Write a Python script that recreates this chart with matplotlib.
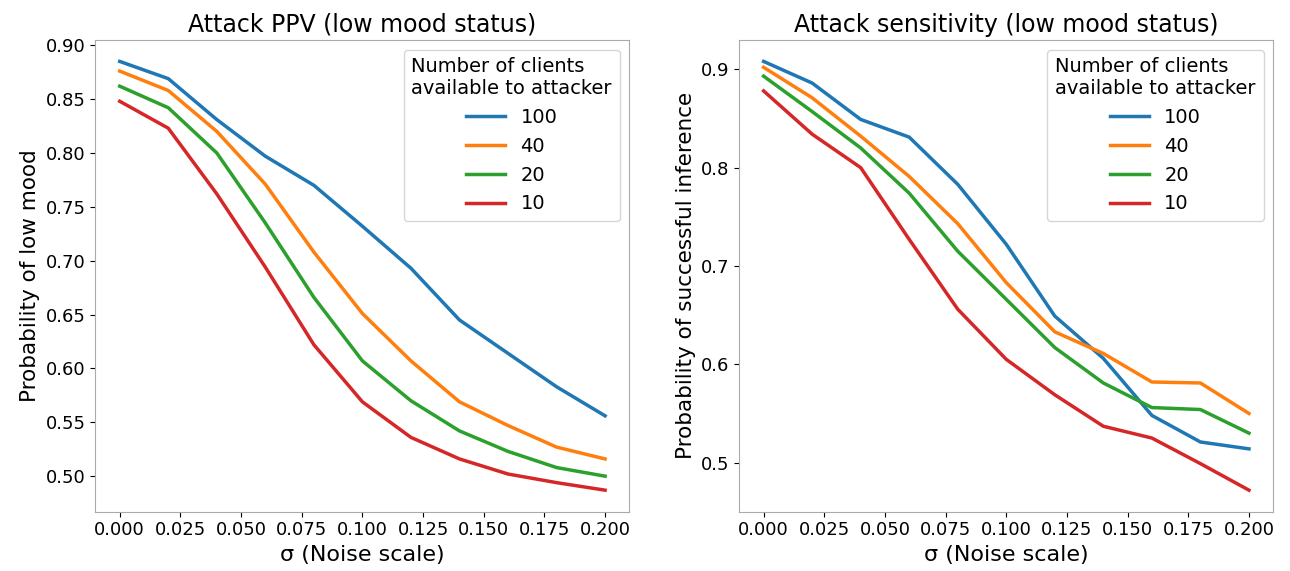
import numpy as np
import matplotlib
matplotlib.use("Agg")
import matplotlib.pyplot as plt

sigma = [0.00, 0.02, 0.04, 0.06, 0.08, 0.10, 0.12, 0.14, 0.16, 0.18, 0.20]
clients = ["100", "40", "20", "10"]

# Attack PPV (low mood status)
ppv_100 = [0.885, 0.869, 0.831, 0.797, 0.770, 0.732, 0.693, 0.645, 0.614, 0.583, 0.556]
ppv_40 = [0.876, 0.858, 0.820, 0.771, 0.708, 0.651, 0.607, 0.569, 0.547, 0.527, 0.516]
ppv_20 = [0.862, 0.842, 0.800, 0.735, 0.666, 0.607, 0.570, 0.542, 0.523, 0.508, 0.500]
ppv_10 = [0.848, 0.823, 0.762, 0.694, 0.622, 0.569, 0.536, 0.516, 0.502, 0.494, 0.487]

# Attack sensitivity (low mood status)
sens_100 = [0.908, 0.886, 0.849, 0.831, 0.783, 0.722, 0.649, 0.606, 0.548, 0.521, 0.514]
sens_40 = [0.902, 0.871, 0.832, 0.791, 0.743, 0.683, 0.633, 0.611, 0.582, 0.581, 0.550]
sens_20 = [0.893, 0.857, 0.820, 0.774, 0.715, 0.666, 0.617, 0.581, 0.556, 0.554, 0.530]
sens_10 = [0.878, 0.834, 0.800, 0.727, 0.656, 0.605, 0.569, 0.537, 0.525, 0.499, 0.472]

colors = ["tab:blue", "tab:orange", "tab:green", "tab:red"]

fig, axes = plt.subplots(1, 2, figsize=(12.9, 5.71), dpi=100)
fig.subplots_adjust(left=0.074, right=0.987, top=0.930, bottom=0.104, wspace=0.206)

panels = [
    (axes[0], [ppv_100, ppv_40, ppv_20, ppv_10],
     "Attack PPV (low mood status)", "Probability of low mood"),
    (axes[1], [sens_100, sens_40, sens_20, sens_10],
     "Attack sensitivity (low mood status)", "Probability of successful inference"),
]

for ax, series, title, ylabel in panels:
    for vals, lab, c in zip(series, clients, colors):
        ax.plot(sigma, vals, color=c, linewidth=2.5, label=lab)
    ax.set_title(title, fontsize=17)
    ax.set_xlabel("σ (Noise scale)", fontsize=16)
    ax.set_ylabel(ylabel, fontsize=15.5)
    ax.set_xticks(np.arange(0, 0.201, 0.025))
    ax.tick_params(labelsize=13)
    ax.legend(title="Number of clients\navailable to attacker", fontsize=14,
              title_fontsize=14, loc="upper right")
    for s in ax.spines.values():
        s.set_color("#aaaaaa")

fig.savefig("out.png")
